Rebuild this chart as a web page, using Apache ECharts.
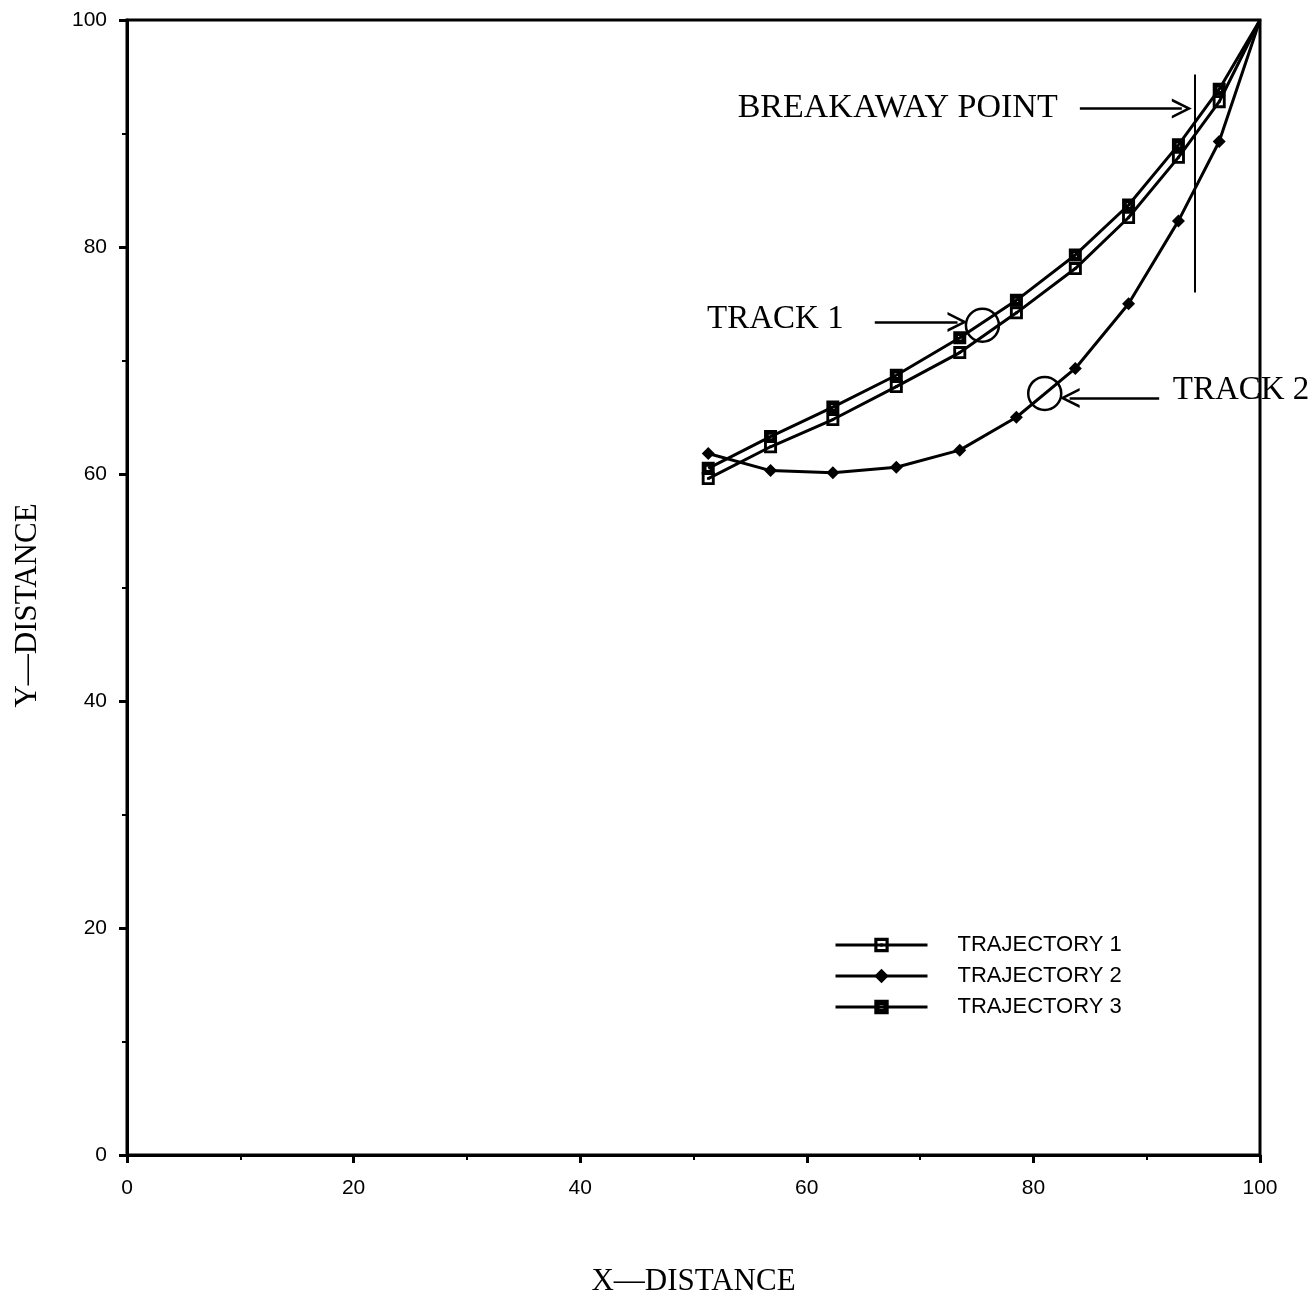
<!DOCTYPE html>
<html>
<head>
<meta charset="utf-8">
<script src="https://cdn.jsdelivr.net/npm/echarts@6/dist/echarts.min.js"></script>
<style>
  html, body { margin: 0; padding: 0; background: #fff; }
  #chart { width: 1316px; height: 1310px; }
</style>
</head>
<body>
<div id="chart"></div>
<script>
// x positions shared by the three trajectories
const xValues = [51.3, 56.8, 62.3, 67.9, 73.5, 78.5, 83.7, 88.4, 92.8, 96.4, 100];
const traj1 = [59.6, 62.4, 64.8, 67.7, 70.7, 74.2, 78.1, 82.6, 87.9, 92.8, 100];
const traj2 = [61.8, 60.3, 60.1, 60.6, 62.1, 65.0, 69.3, 75.0, 82.3, 89.3, 100];
const traj3 = [60.5, 63.3, 65.9, 68.7, 72.0, 75.3, 79.3, 83.7, 89.0, 93.9, 100];
const seriesNames = ["TRAJECTORY 1", "TRAJECTORY 2", "TRAJECTORY 3"];

// annotations (data coordinates)
const noteTexts = ["BREAKAWAY POINT", "TRACK 1", "TRACK 2"];
const noteSizes = [34, 33, 33];
const noteAt = [[53.9, 92.2], [51.2, 73.6], [92.3, 67.4]];
const arrowFrom = [[84.1, 92.2], [66.0, 73.4], [91.1, 66.7]];
const arrowTo = [[93.1, 92.2], [73.3, 73.4], [83.2, 66.7]];
const circleAt = [[75.5, 73.1], [81.0, 67.1]];
const breakaway = [[94.2, 76.0], [94.2, 95.2]];

const serif = "Liberation Serif";
const sans = "Liberation Sans";

const squareOpen = "path://M0,0H10V10H0Z M2.2,2.2V7.8H7.8V2.2Z M4,4H6V6H4Z";
const squareDark = "path://M0,0H10V10H0Z M3.7,3.7V6.3H6.3V3.7Z";
const chevron = "path://M0,14L7,0L14,14L12,14L7,4L2,14Z";

function points(ys) {
  // no marker on the shared end point in the corner
  return ys.map((y, i) =>
    i === ys.length - 1 ? { value: [xValues[i], y], symbol: "none" } : [xValues[i], y]
  );
}

const chart = echarts.init(document.getElementById("chart"));
chart.setOption({
  animation: false,
  backgroundColor: "#fff",
  grid: {
    left: 127, right: 56, top: 20, bottom: 155,
    show: true, borderColor: "#000", borderWidth: 3, backgroundColor: "transparent"
  },
  legend: {
    data: seriesNames,
    orient: "vertical",
    left: 829, top: 929,
    itemWidth: 92, itemHeight: 18, itemGap: 9,
    lineStyle: { width: 3 },
    textStyle: { fontFamily: sans, fontSize: 22, color: "#000", padding: [0, 0, 0, 25] }
  },
  xAxis: {
    type: "value", min: 0, max: 100, interval: 20,
    name: "X\u2014DISTANCE", nameLocation: "middle", nameGap: 111,
    nameTextStyle: { fontFamily: serif, fontSize: 31, color: "#000" },
    axisLine: { lineStyle: { color: "#000", width: 3 } },
    axisTick: { length: 8, lineStyle: { width: 3 } },
    minorTick: { show: true, splitNumber: 2, length: 5, lineStyle: { color: "#000", width: 2 } },
    axisLabel: { margin: 23, fontFamily: sans, fontSize: 21, color: "#000" },
    splitLine: { show: false }
  },
  yAxis: {
    type: "value", min: 0, max: 100, interval: 20,
    name: "Y\u2014DISTANCE", nameLocation: "middle", nameGap: 84,
    nameTextStyle: { fontFamily: serif, fontSize: 31, color: "#000", padding: [0, 0, 0, -36] },
    axisLine: { lineStyle: { color: "#000", width: 3 } },
    axisTick: { length: 8, lineStyle: { width: 3 } },
    minorTick: { show: true, splitNumber: 2, length: 5, lineStyle: { color: "#000", width: 2 } },
    axisLabel: { margin: 20, fontFamily: sans, fontSize: 21, color: "#000" },
    splitLine: { show: false }
  },
  series: [
    {
      name: seriesNames[0], type: "line", data: points(traj1),
      symbol: squareOpen, symbolSize: 13,
      lineStyle: { color: "#000", width: 3 },
      itemStyle: { color: "#000" }
    },
    {
      name: seriesNames[1], type: "line", data: points(traj2),
      symbol: "diamond", symbolSize: 13,
      lineStyle: { color: "#000", width: 3 },
      itemStyle: { color: "#000" }
    },
    {
      name: seriesNames[2], type: "line", data: points(traj3),
      symbol: squareDark, symbolSize: 13,
      lineStyle: { color: "#000", width: 3 },
      itemStyle: { color: "#000" }
    },
    {
      // annotation layer
      type: "line", data: [], silent: true,
      markPoint: {
        silent: true,
        data: [
          ...noteTexts.map((t, i) => ({
            coord: noteAt[i], symbolSize: 0,
            label: {
              show: true, position: "right", distance: 0, formatter: t,
              fontFamily: serif, fontSize: noteSizes[i], color: "#000"
            }
          })),
          ...circleAt.map((c) => ({
            coord: c, symbol: "circle", symbolSize: 33,
            itemStyle: { color: "rgba(0,0,0,0)", borderColor: "#000", borderWidth: 2.5 },
            label: { show: false }
          }))
        ]
      },
      markLine: {
        silent: true,
        label: { show: false },
        lineStyle: { color: "#000", width: 2.5, type: "solid" },
        data: [
          ...arrowFrom.map((f, i) => [
            { coord: f, symbol: "none" },
            { coord: arrowTo[i], symbol: chevron, symbolSize: [20, 20] }
          ]),
          [
            { coord: breakaway[0], symbol: "none" },
            { coord: breakaway[1], symbol: "none", lineStyle: { width: 2 } }
          ]
        ]
      }
    }
  ]
});
</script>
</body>
</html>
